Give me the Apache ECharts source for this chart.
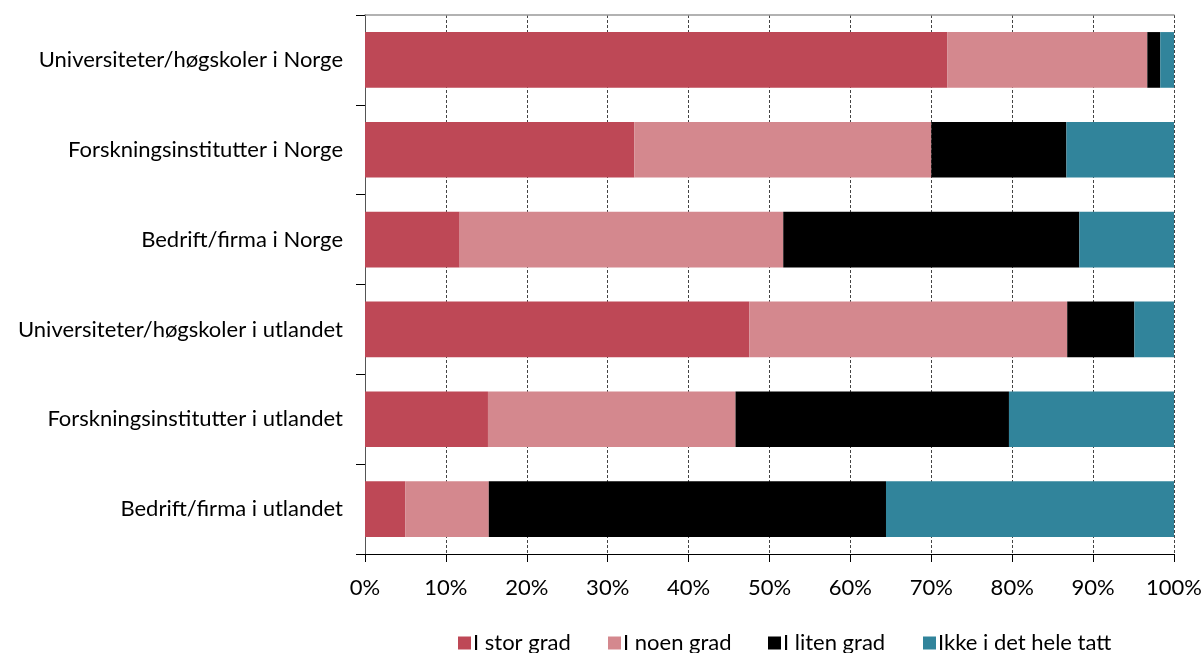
<!DOCTYPE html>
<html><head><meta charset="utf-8">
<script src="https://cdn.jsdelivr.net/npm/echarts@6/dist/echarts.min.js"></script>
<style>html,body{margin:0;padding:0;background:#fff}#c{width:1203px;height:653px}</style>
</head><body><div id="c"></div>
<script>
const categories = ["Universiteter/høgskoler i Norge","Forskningsinstitutter i Norge","Bedrift/firma i Norge","Universiteter/høgskoler i utlandet","Forskningsinstitutter i utlandet","Bedrift/firma i utlandet"];
const seriesNames = ["I stor grad","I noen grad","I liten grad","Ikke i det hele tatt"];
const storGrad = [72.0, 33.3, 11.7, 47.5, 15.2, 5.0];
const noenGrad = [24.7, 36.7, 40.0, 39.3, 30.6, 10.3];
const litenGrad = [1.6, 16.7, 36.6, 8.3, 33.8, 49.1];
const ikkeTatt = [1.7, 13.3, 11.7, 4.9, 20.4, 35.6];
const tickLabels = ["0%","10%","20%","30%","40%","50%","60%","70%","80%","90%","100%"];
const colors = ["#BE4856","#D4888E","#000000","#31849B"];
const font = "Lato";
const chart = echarts.init(document.getElementById('c'));
const data = [storGrad, noenGrad, litenGrad, ikkeTatt];
const legendLeft = [453, 603, 763, 918];
chart.setOption({
  animation:false,
  color: colors,
  grid:{left:365,right:29,top:15,bottom:99,containLabel:false,outerBoundsMode:'none'},
  legend: seriesNames.map((n,i)=>({top:627,left:legendLeft[i],itemWidth:13,itemHeight:13,icon:'rect',
    textStyle:{fontFamily:font,fontSize:22,color:'#000',padding:[0,0,0,-3]},data:[n]})),
  xAxis:[{type:'value',min:0,max:100,interval:10,
    axisLine:{show:true,lineStyle:{color:'#000',width:1}},
    axisTick:{show:true,length:8,lineStyle:{color:'#000'}},
    axisLabel:{fontFamily:font,fontSize:22,color:'#000',margin:23,formatter:(v)=>tickLabels[Math.round(v/10)]},
    splitLine:{show:true,lineStyle:{color:'#444',type:[3,2],width:1}}},
   {type:'value',position:'top',min:0,max:100,
    axisLine:{show:true,lineStyle:{color:'#999',width:1.5}},axisTick:{show:false},axisLabel:{show:false},splitLine:{show:false}}],
  yAxis:[{type:'category',data:categories,inverse:true,
    axisLine:{show:true,lineStyle:{color:'#000',width:1}},
    axisTick:{show:true,length:9,lineStyle:{color:'#000'}},
    axisLabel:{fontFamily:font,fontSize:22,color:'#000',margin:22}},
   {type:'category',data:categories,inverse:true,position:'right',
    axisLine:{show:true,lineStyle:{color:'#555',width:1}},axisTick:{show:false},axisLabel:{show:false}}],
  series: seriesNames.map((n,i)=>({name:n,type:'bar',stack:'s',barWidth:'62%',data:data[i],
    itemStyle:{color:colors[i]}}))
});
</script></body></html>
